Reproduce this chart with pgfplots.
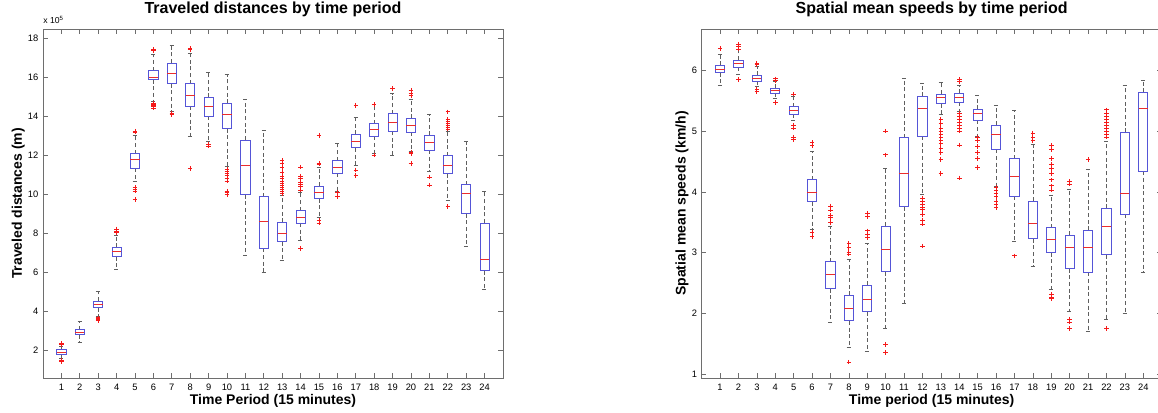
\documentclass[border=0pt]{standalone}
\usepackage{pgfplots}
\pgfplotsset{compat=1.18}
\usepgfplotslibrary{statistics}
\usepackage{fontspec}
\setmainfont{Liberation Sans}
\definecolor{boxblue}{RGB}{85,85,215}
\definecolor{medred}{RGB}{235,45,45}
\definecolor{whisk}{RGB}{95,95,95}
\definecolor{spine}{RGB}{110,110,110}
\definecolor{outred}{RGB}{245,25,25}
\pgfplotsset{
  mbox/.style={boxplot prepared={#1}, color=outred, mark=+, mark size=1.7pt,
    mark options={solid, color=outred, draw=outred, line width=0.6pt}},
  common/.style={
    scale only axis, width=345pt, height=261.75pt,
    xmin=0, xmax=25, xtick={1,...,24},
    clip mode=individual,
    axis line style={spine}, tick style={spine, line width=0.5pt},
    major tick length=3.6pt,
    tick align=inside,
    /pgf/number format/assume math mode=true,
    tick label style={font=\fontsize{7}{8}\selectfont},
    xticklabel style={yshift=-1pt},
    title style={at={(axis description cs:0.5,1)}, anchor=base, yshift=5.5pt, font=\bfseries\fontsize{12}{14}\selectfont},
    xlabel style={at={(axis description cs:0.5,0)}, anchor=base, yshift=-19.5pt, font=\bfseries\fontsize{10.5}{12}\selectfont},
    ylabel style={anchor=base, font=\bfseries\fontsize{10.5}{12}\selectfont},
    boxplot/draw direction=y,
    boxplot/box extend=0.5, boxplot/whisker extend=0.25,
    boxplot/every box/.style={draw=boxblue, solid, line width=0.6pt},
    boxplot/every whisker/.style={draw=whisk, dash pattern=on 3pt off 2pt, line width=0.55pt},
    boxplot/every median/.style={draw=medred, solid, line width=0.6pt},
  }
}
\begin{document}
\begin{tikzpicture}
\begin{axis}[common, at={(0pt,0pt)},
  ymin=0.56, ymax=18.5, ytick={2,4,...,18},
  title={Traveled distances by time period},
  xlabel={Time Period (15 minutes)},
  ylabel={Traveled distances (m)},
  ylabel style={at={(axis description cs:-0.0457,0.5)}},
]
\addplot[mbox={draw position=1, lower whisker=1.55, lower quartile=1.79, median=1.90, upper quartile=2.02, upper whisker=2.20}] coordinates {(0,2.27) (0,2.32) (0,1.45) (0,1.41)};
\addplot[mbox={draw position=2, lower whisker=2.40, lower quartile=2.78, median=2.90, upper quartile=3.05, upper whisker=3.45}] coordinates {};
\addplot[mbox={draw position=3, lower whisker=3.75, lower quartile=4.17, median=4.36, upper quartile=4.52, upper whisker=5.00}] coordinates {(0,3.65) (0,3.60) (0,3.55) (0,3.50)};
\addplot[mbox={draw position=4, lower whisker=6.16, lower quartile=6.79, median=7.07, upper quartile=7.28, upper whisker=7.90}] coordinates {(0,8.05) (0,8.12) (0,8.22)};
\addplot[mbox={draw position=5, lower whisker=10.68, lower quartile=11.35, median=11.78, upper quartile=12.09, upper whisker=13.03}] coordinates {(0,13.2) (0,13.25) (0,10.34) (0,10.26) (0,10.17) (0,9.74)};
\addplot[mbox={draw position=6, lower whisker=14.79, lower quartile=15.90, median=16.03, upper quartile=16.36, upper whisker=17.18}] coordinates {(0,17.38) (0,17.44) (0,14.67) (0,14.6) (0,14.55) (0,14.5) (0,14.44)};
\addplot[mbox={draw position=7, lower whisker=14.27, lower quartile=15.69, median=16.24, upper quartile=16.75, upper whisker=17.66}] coordinates {(0,14.18) (0,14.1)};
\addplot[mbox={draw position=8, lower whisker=12.96, lower quartile=14.53, median=15.11, upper quartile=15.69, upper whisker=17.26}] coordinates {(0,17.44) (0,17.5) (0,11.33)};
\addplot[mbox={draw position=9, lower whisker=12.74, lower quartile=14.02, median=14.50, upper quartile=14.99, upper whisker=16.29}] coordinates {(0,12.56) (0,12.48)};
\addplot[mbox={draw position=10, lower whisker=11.45, lower quartile=13.37, median=14.09, upper quartile=14.68, upper whisker=16.15}] coordinates {(0,11.28) (0,11.2) (0,11.1) (0,10.95) (0,10.8) (0,10.68) (0,10.17) (0,10.1) (0,10.0)};
\addplot[mbox={draw position=11, lower whisker=6.88, lower quartile=9.98, median=11.49, upper quartile=12.79, upper whisker=14.90}] coordinates {};
\addplot[mbox={draw position=12, lower whisker=5.97, lower quartile=7.22, median=8.62, upper quartile=9.88, upper whisker=13.28}] coordinates {};
\addplot[mbox={draw position=13, lower whisker=6.59, lower quartile=7.57, median=7.97, upper quartile=8.57, upper whisker=9.95}] coordinates {(0,10.05) (0,10.15) (0,10.25) (0,10.35) (0,10.45) (0,10.55) (0,10.65) (0,10.8) (0,10.94) (0,11.15) (0,11.37) (0,11.57) (0,11.74)};
\addplot[mbox={draw position=14, lower whisker=7.62, lower quartile=8.53, median=8.83, upper quartile=9.17, upper whisker=10.10}] coordinates {(0,11.4) (0,10.94) (0,10.82) (0,10.63) (0,10.5) (0,10.39) (0,10.22) (0,7.22)};
\addplot[mbox={draw position=15, lower whisker=8.83, lower quartile=9.78, median=10.12, upper quartile=10.43, upper whisker=11.37}] coordinates {(0,11.55) (0,11.6) (0,13.03) (0,8.65) (0,8.53)};
\addplot[mbox={draw position=16, lower whisker=10.17, lower quartile=11.08, median=11.37, upper quartile=11.73, upper whisker=12.62}] coordinates {(0,10.09) (0,9.88)};
\addplot[mbox={draw position=17, lower whisker=11.49, lower quartile=12.39, median=12.74, upper quartile=13.08, upper whisker=13.98}] coordinates {(0,14.58) (0,11.25) (0,10.97)};
\addplot[mbox={draw position=18, lower whisker=12.10, lower quartile=12.99, median=13.33, upper quartile=13.64, upper whisker=14.65}] coordinates {(0,14.62) (0,12.02)};
\addplot[mbox={draw position=19, lower whisker=12.03, lower quartile=13.25, median=13.68, upper quartile=14.14, upper whisker=15.18}] coordinates {(0,15.45)};
\addplot[mbox={draw position=20, lower whisker=12.22, lower quartile=13.20, median=13.57, upper quartile=13.90, upper whisker=14.90}] coordinates {(0,15.33) (0,15.21) (0,15.08) (0,12.17) (0,12.1) (0,11.59)};
\addplot[mbox={draw position=21, lower whisker=11.20, lower quartile=12.27, median=12.65, upper quartile=13.03, upper whisker=14.10}] coordinates {(0,10.89) (0,10.48)};
\addplot[mbox={draw position=22, lower whisker=9.67, lower quartile=11.06, median=11.50, upper quartile=11.98, upper whisker=13.25}] coordinates {(0,14.24) (0,13.85) (0,13.75) (0,13.65) (0,13.55) (0,13.45) (0,13.35) (0,9.37)};
\addplot[mbox={draw position=23, lower whisker=7.33, lower quartile=9.00, median=10.03, upper quartile=10.50, upper whisker=12.74}] coordinates {};
\addplot[mbox={draw position=24, lower whisker=5.12, lower quartile=6.07, median=6.67, upper quartile=8.52, upper whisker=10.14}] coordinates {};
\node[anchor=base west, inner sep=0pt, font=\fontsize{6.5}{7}\selectfont] at ([yshift=4pt]rel axis cs:0,1) {x 10\textsuperscript{5}};
\end{axis}
\begin{axis}[common, at={(494pt,0pt)},
  ymin=0.94, ymax=6.68, ytick={1,...,6},
  title={Spatial mean speeds by time period},
  xlabel={Time period (15 minutes)},
  ylabel={Spatial mean speeds (km/h)},
  ylabel style={at={(axis description cs:-0.035,0.5)}},
]
\addplot[mbox={draw position=1, lower whisker=5.76, lower quartile=5.96, median=6.02, upper quartile=6.08, upper whisker=6.26}] coordinates {(0,6.36)};
\addplot[mbox={draw position=2, lower whisker=5.93, lower quartile=6.05, median=6.12, upper quartile=6.17, upper whisker=6.34}] coordinates {(0,6.35) (0,6.39) (0,6.43) (0,5.85)};
\addplot[mbox={draw position=3, lower whisker=5.73, lower quartile=5.82, median=5.87, upper quartile=5.92, upper whisker=6.07}] coordinates {(0,6.09) (0,6.12) (0,5.69) (0,5.65)};
\addplot[mbox={draw position=4, lower whisker=5.54, lower quartile=5.62, median=5.67, upper quartile=5.71, upper whisker=5.82}] coordinates {(0,5.83) (0,5.86) (0,5.47)};
\addplot[mbox={draw position=5, lower whisker=5.18, lower quartile=5.28, median=5.34, upper quartile=5.40, upper whisker=5.57}] coordinates {(0,5.61) (0,5.09) (0,5.05) (0,4.9) (0,4.86)};
\addplot[mbox={draw position=6, lower whisker=3.38, lower quartile=3.84, median=4.00, upper quartile=4.20, upper whisker=4.67}] coordinates {(0,4.76) (0,4.81) (0,3.33) (0,3.27)};
\addplot[mbox={draw position=7, lower whisker=1.86, lower quartile=2.41, median=2.64, upper quartile=2.85, upper whisker=3.44}] coordinates {(0,3.5) (0,3.58) (0,3.62) (0,3.7) (0,3.77)};
\addplot[mbox={draw position=8, lower whisker=1.45, lower quartile=1.88, median=2.09, upper quartile=2.30, upper whisker=2.89}] coordinates {(0,2.98) (0,3.0) (0,3.08) (0,3.15) (0,1.2)};
\addplot[mbox={draw position=9, lower whisker=1.38, lower quartile=2.03, median=2.24, upper quartile=2.47, upper whisker=3.15}] coordinates {(0,3.25) (0,3.3) (0,3.36) (0,3.6) (0,3.65)};
\addplot[mbox={draw position=10, lower whisker=1.76, lower quartile=2.69, median=3.05, upper quartile=3.44, upper whisker=4.38}] coordinates {(0,4.61) (0,5.0) (0,1.49) (0,1.36)};
\addplot[mbox={draw position=11, lower whisker=2.16, lower quartile=3.76, median=4.31, upper quartile=4.89, upper whisker=5.86}] coordinates {};
\addplot[mbox={draw position=12, lower whisker=3.96, lower quartile=4.92, median=5.38, upper quartile=5.57, upper whisker=5.79}] coordinates {(0,3.9) (0,3.85) (0,3.8) (0,3.75) (0,3.71) (0,3.63) (0,3.54) (0,3.47) (0,3.11)};
\addplot[mbox={draw position=13, lower whisker=5.27, lower quartile=5.45, median=5.55, upper quartile=5.61, upper whisker=5.81}] coordinates {(0,5.19) (0,5.12) (0,5.05) (0,5.0) (0,4.95) (0,4.9) (0,4.85) (0,4.8) (0,4.72) (0,4.65) (0,4.53) (0,4.3)};
\addplot[mbox={draw position=14, lower whisker=5.33, lower quartile=5.48, median=5.56, upper quartile=5.62, upper whisker=5.76}] coordinates {(0,5.81) (0,5.85) (0,5.29) (0,5.24) (0,5.2) (0,5.15) (0,5.1) (0,5.05) (0,5.0) (0,4.77) (0,4.23)};
\addplot[mbox={draw position=15, lower whisker=4.92, lower quartile=5.18, median=5.30, upper quartile=5.36, upper whisker=5.59}] coordinates {(0,4.9) (0,4.85) (0,4.75) (0,4.65) (0,4.55) (0,4.4)};
\addplot[mbox={draw position=16, lower whisker=4.09, lower quartile=4.70, median=4.95, upper quartile=5.10, upper whisker=5.43}] coordinates {(0,4.07) (0,4.02) (0,3.97) (0,3.92) (0,3.85) (0,3.8) (0,3.74)};
\addplot[mbox={draw position=17, lower whisker=3.18, lower quartile=3.93, median=4.26, upper quartile=4.55, upper whisker=5.34}] coordinates {(0,2.95)};
\addplot[mbox={draw position=18, lower whisker=2.78, lower quartile=3.23, median=3.48, upper quartile=3.85, upper whisker=4.78}] coordinates {(0,4.97) (0,4.9) (0,4.84)};
\addplot[mbox={draw position=19, lower whisker=2.40, lower quartile=3.00, median=3.22, upper quartile=3.41, upper whisker=3.95}] coordinates {(0,4.76) (0,4.7) (0,4.55) (0,4.45) (0,4.38) (0,4.3) (0,4.2) (0,4.1) (0,4.03) (0,2.31) (0,2.27) (0,2.25)};
\addplot[mbox={draw position=20, lower whisker=2.04, lower quartile=2.74, median=3.08, upper quartile=3.29, upper whisker=4.04}] coordinates {(0,4.13) (0,4.17) (0,1.91) (0,1.86) (0,1.75)};
\addplot[mbox={draw position=21, lower whisker=1.70, lower quartile=2.68, median=3.09, upper quartile=3.37, upper whisker=4.37}] coordinates {(0,4.53)};
\addplot[mbox={draw position=22, lower whisker=1.90, lower quartile=2.97, median=3.43, upper quartile=3.73, upper whisker=4.83}] coordinates {(0,5.35) (0,5.3) (0,5.25) (0,5.2) (0,5.15) (0,5.1) (0,5.05) (0,5.0) (0,4.95) (0,4.9) (0,1.75)};
\addplot[mbox={draw position=23, lower whisker=2.00, lower quartile=3.63, median=3.97, upper quartile=4.98, upper whisker=5.76}] coordinates {};
\addplot[mbox={draw position=24, lower whisker=2.67, lower quartile=4.34, median=5.38, upper quartile=5.64, upper whisker=5.84}] coordinates {};
\end{axis}
\pgfresetboundingbox
\path[use as bounding box] (-32.25pt,-25.5pt) rectangle (836.25pt,283.5pt);
\end{tikzpicture}
\end{document}
